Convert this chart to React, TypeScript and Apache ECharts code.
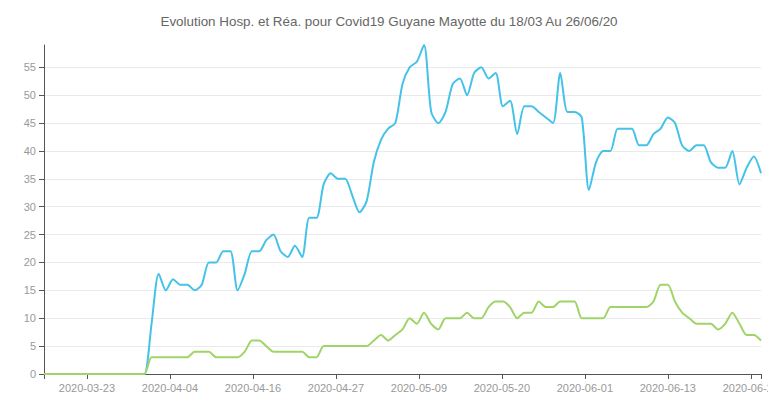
import React, { useEffect, useRef } from "react";
import * as echarts from "echarts";

const TITLE = "Evolution Hosp. et Réa. pour Covid19 Guyane Mayotte du 18/03 Au 26/06/20";
const START_DATE = "2020-03-18";
const DAY_COUNT = 101;

const hospValues = [
  0, 0, 0, 0, 0, 0, 0, 0, 0, 0, 0, 0, 0, 0, 0, 9, 18, 15, 17, 16,
  16, 15, 16, 20, 20, 22, 22, 15, 18, 22, 22, 24, 25, 22, 21, 23, 21, 28, 28, 34,
  36, 35, 35, 32, 29, 31, 38, 42, 44, 45, 52, 55, 56, 59, 47, 45, 47, 52, 53, 50,
  54, 55, 53, 54, 48, 49, 43, 48, 48, 47, 46, 45, 54, 47, 47, 46, 33, 38, 40, 40,
  44, 44, 44, 41, 41, 43, 44, 46, 45, 41, 40, 41, 41, 38, 37, 37, 40, 34, 37, 39,
  36,
];

const reaValues = [
  0, 0, 0, 0, 0, 0, 0, 0, 0, 0, 0, 0, 0, 0, 0, 3, 3, 3, 3, 3,
  3, 4, 4, 4, 3, 3, 3, 3, 4, 6, 6, 5, 4, 4, 4, 4, 4, 3, 3, 5,
  5, 5, 5, 5, 5, 5, 6, 7, 6, 7, 8, 10, 9, 11, 9, 8, 10, 10, 10, 11,
  10, 10, 12, 13, 13, 12, 10, 11, 11, 13, 12, 12, 13, 13, 13, 10, 10, 10, 10, 12,
  12, 12, 12, 12, 12, 13, 16, 16, 13, 11, 10, 9, 9, 9, 8, 9, 11, 9, 7, 7,
  6,
];

// x tick positions (ms timestamps) shown on the date axis
const xTickValues = [1585e9, 1586e9, 1587e9, 1588e9, 1589e9, 1590e9, 1591e9, 1592e9, 1593e9];

const TZ_OFFSET = 2 * 3600 * 1000; // Europe/Paris summer time

function dayStamp(i: number): number {
  const [y, m, d] = START_DATE.split("-").map(Number);
  return Date.UTC(y, m - 1, d + i) - TZ_OFFSET;
}

function fmt(v: number): string {
  return new Date(v + TZ_OFFSET).toISOString().slice(0, 10);
}

const CHART_W = 820;

export default function App() {
  const ref = useRef<HTMLDivElement>(null);
  useEffect(() => {
    document.body.style.margin = "0";
    document.body.style.overflow = "hidden";
    if (!ref.current) return;
    const chart = echarts.init(ref.current, undefined, { renderer: "svg" });
    const stamps = Array.from({ length: DAY_COUNT }, (_, i) => dayStamp(i));
    const xMin = stamps[0];
    const xMax = stamps[stamps.length - 1];
    const font = "Arial, 'Liberation Sans', sans-serif";
    chart.setOption({
      animation: false,
      title: {
        text: TITLE,
        left: 384,
        textAlign: "center",
        top: 10,
        textStyle: { fontSize: 13.4, fontWeight: "normal", color: "#666", fontFamily: font },
      },
      grid: { left: 44, right: CHART_W - 761, top: 45, bottom: 24 },
      xAxis: {
        type: "value",
        min: xMin,
        max: xMax,
        axisLine: { lineStyle: { color: "#555" } },
        axisTick: { length: 5, lineStyle: { color: "#555" }, customValues: [xMin, ...xTickValues, xMax] },
        axisLabel: {
          customValues: xTickValues,
          formatter: (v: number) => fmt(v),
          color: "#999",
          fontSize: 11,
          fontFamily: font,
          margin: 8,
        },
        splitLine: { show: false },
      },
      yAxis: {
        type: "value",
        min: 0,
        max: 59,
        interval: 5,
        axisLine: { show: true, lineStyle: { color: "#555" } },
        axisTick: { show: true, length: 5, lineStyle: { color: "#555" } },
        axisLabel: { color: "#999", fontSize: 11, fontFamily: font, showMaxLabel: false, margin: 8 },
        splitLine: { lineStyle: { color: "#eaeaea" }, showMaxLine: false },
      },
      series: [
        {
          name: "Hosp.",
          type: "line",
          data: stamps.map((t, i) => [t, hospValues[i]]),
          showSymbol: false,
          smooth: 0.25,
          lineStyle: { width: 2, color: "#45C2E8" },
          itemStyle: { color: "#45C2E8" },
        },
        {
          name: "Réa.",
          type: "line",
          data: stamps.map((t, i) => [t, reaValues[i]]),
          showSymbol: false,
          smooth: 0.25,
          lineStyle: { width: 2, color: "#A0D468" },
          itemStyle: { color: "#A0D468" },
        },
      ],
    });
    return () => chart.dispose();
  }, []);
  return <div ref={ref} style={{ width: CHART_W, height: 398 }} />;
}
